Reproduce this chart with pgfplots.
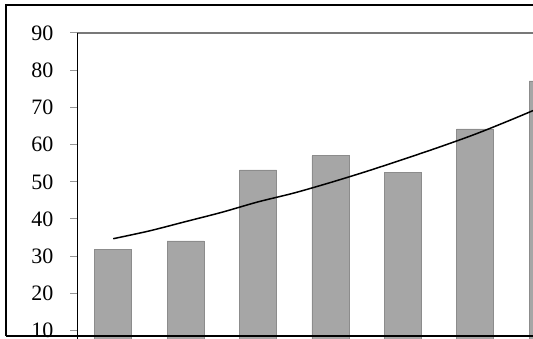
\documentclass[border=0pt]{standalone}
\usepackage{fontspec}
\setmainfont{Liberation Serif}
\usepackage{pgfplots}
\pgfplotsset{compat=1.18}
\definecolor{barfill}{RGB}{166,166,166}
\definecolor{baredge}{RGB}{140,140,140}
\definecolor{tickgray}{RGB}{150,150,150}
\definecolor{topgray}{RGB}{120,120,120}
\begin{document}
\begin{tikzpicture}
\useasboundingbox (0pt,0pt) rectangle (533pt,338pt);
\clip (0pt,0pt) rectangle (533pt,338pt);
\begin{axis}[
  at={(77pt,305pt)}, anchor=north west,
  x=72.4pt, y=3.72pt,
  xmin=0.5, xmax=7.5, ymin=0, ymax=90,
  separate axis lines,
  x axis line style={topgray, line width=1.4pt},
  y axis line style={black, line width=1pt},
  xtick=\empty,
  ytick={10,20,30,40,50,60,70,80,90},
  ytick pos=left,
  tick align=outside,
  major tick length=7pt,
  major tick style={tickgray, line width=1pt},
  /pgf/number format/assume math mode=true,
  tick label style={font=\fontsize{22}{26}\selectfont},
  yticklabel style={xshift=-13pt},
  clip=false,
]
\addplot[ybar, bar width=37pt, fill=barfill, draw=baredge, line width=0.75pt]
  coordinates {(1,31.7) (2,34.1) (3,53.2) (4,57.0) (5,52.6) (6,64.2) (7,77.1)};
\addplot[black, line width=1.5pt, smooth, no markers]
  coordinates {(1,34.7) (1.5,36.8) (2,39.3) (2.5,41.8) (3,44.6) (3.5,47.0)
               (4,49.8) (4.5,52.8) (5,56.0) (5.5,59.3) (6,62.8) (6.5,66.7) (7,70.8)};
\end{axis}
\draw[black, line width=2pt] (6.3pt,1.8pt) -- (6.3pt,333pt) -- (545pt,333pt);
\draw[black, line width=2pt] (6.3pt,1.8pt) -- (545pt,1.8pt);
\end{tikzpicture}
\end{document}
